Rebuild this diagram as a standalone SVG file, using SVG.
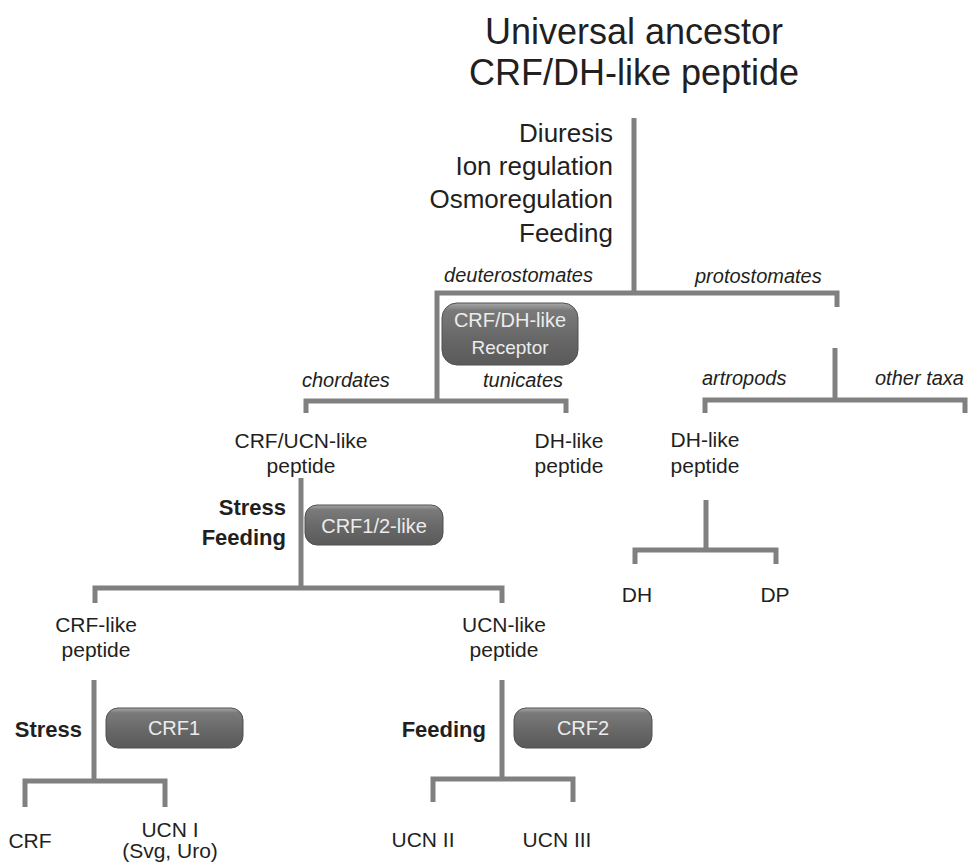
<svg xmlns="http://www.w3.org/2000/svg" width="972" height="863" viewBox="0 0 972 863">
<style>
text{font-family:"Liberation Sans",Arial,sans-serif;fill:#231f20}
.t{font-size:21px;text-anchor:middle}
.it{font-size:20px;font-style:italic}
.b{font-size:22px;font-weight:bold;text-anchor:end}
.fn{font-size:26px;text-anchor:end}
.ttl{font-size:36px;text-anchor:middle}
.bx{fill:url(#g);stroke:#505050;stroke-width:1}
.bt{fill:#ececec;text-anchor:middle}
#connectors path{fill:none;stroke:#808080;stroke-width:5;stroke-linejoin:miter}
</style>
<defs>
<linearGradient id="g" x1="0" y1="0" x2="0" y2="1">
<stop offset="0" stop-color="#a8a8a8"/>
<stop offset="0.12" stop-color="#7a7a7a"/>
<stop offset="0.6" stop-color="#666"/>
<stop offset="1" stop-color="#5a5a5a"/>
</linearGradient>
</defs>
<rect width="972" height="863" fill="#fff"/>
<g id="connectors">
<path d="M634 118V293"/>
<path d="M437 401V293H837V307"/>
<path d="M835 348V400"/>
<path d="M306 413V401H566V413"/>
<path d="M705 413V400H965V413"/>
<path d="M301 478V588"/>
<path d="M95 603V588H502V603"/>
<path d="M706 500V550"/>
<path d="M635 564V550H776V564"/>
<path d="M94 680V781"/>
<path d="M25 807V781H165V807"/>
<path d="M502 680V779"/>
<path d="M433 802V779H573V802"/>
</g>
<g id="title">
<text class="ttl" x="634" y="44">Universal ancestor</text>
<text class="ttl" x="634" y="85">CRF/DH-like peptide</text>
</g>
<g id="functions">
<text class="fn" x="613" y="142">Diuresis</text>
<text class="fn" x="613" y="175">Ion regulation</text>
<text class="fn" x="613" y="208">Osmoregulation</text>
<text class="fn" x="613" y="242">Feeding</text>
</g>
<g id="taxa">
<text class="it" x="593" y="282" text-anchor="end">deuterostomates</text>
<text class="it" x="695" y="283">protostomates</text>
<text class="it" x="302" y="387">chordates</text>
<text class="it" x="483" y="387">tunicates</text>
<text class="it" x="702" y="385">artropods</text>
<text class="it" x="875" y="385">other taxa</text>
</g>
<g id="receptor-crfdh">
<rect class="bx" x="442" y="303" width="136" height="62" rx="15"/>
<text class="bt" x="510" y="327" font-size="20">CRF/DH-like</text>
<text class="bt" x="510" y="354" font-size="19">Receptor</text>
</g>
<g id="crf-ucn-like">
<text class="t" x="301" y="448">CRF/UCN-like</text>
<text class="t" x="301" y="473">peptide</text>
</g>
<g id="dh-like-tunicates">
<text class="t" x="569" y="448">DH-like</text>
<text class="t" x="569" y="473">peptide</text>
</g>
<g id="dh-like-artropods">
<text class="t" x="705" y="447">DH-like</text>
<text class="t" x="705" y="473">peptide</text>
</g>
<g id="dh"><text class="t" x="637" y="602">DH</text></g>
<g id="dp"><text class="t" x="775" y="602">DP</text></g>
<g id="mid-functions">
<text class="b" x="286" y="515">Stress</text>
<text class="b" x="286" y="545">Feeding</text>
</g>
<g id="receptor-crf12">
<rect class="bx" x="305" y="505" width="138" height="40" rx="12"/>
<text class="bt" x="374" y="533" font-size="20">CRF1/2-like</text>
</g>
<g id="crf-like">
<text class="t" x="96" y="632">CRF-like</text>
<text class="t" x="96" y="657">peptide</text>
</g>
<g id="ucn-like">
<text class="t" x="504" y="632">UCN-like</text>
<text class="t" x="504" y="657">peptide</text>
</g>
<g id="stress-bottom"><text class="b" x="82" y="737">Stress</text></g>
<g id="receptor-crf1">
<rect class="bx" x="106" y="708" width="137" height="40" rx="12"/>
<text class="bt" x="174" y="735" font-size="20">CRF1</text>
</g>
<g id="feeding-bottom"><text class="b" x="486" y="737">Feeding</text></g>
<g id="receptor-crf2">
<rect class="bx" x="514" y="708" width="138" height="40" rx="12"/>
<text class="bt" x="583" y="735" font-size="20">CRF2</text>
</g>
<g id="crf"><text class="t" x="30" y="848">CRF</text></g>
<g id="ucn1">
<text class="t" x="170" y="837">UCN I</text>
<text class="t" x="170" y="858">(Svg, Uro)</text>
</g>
<g id="ucn2"><text class="t" x="423" y="847">UCN II</text></g>
<g id="ucn3"><text class="t" x="557" y="847">UCN III</text></g>
</svg>
